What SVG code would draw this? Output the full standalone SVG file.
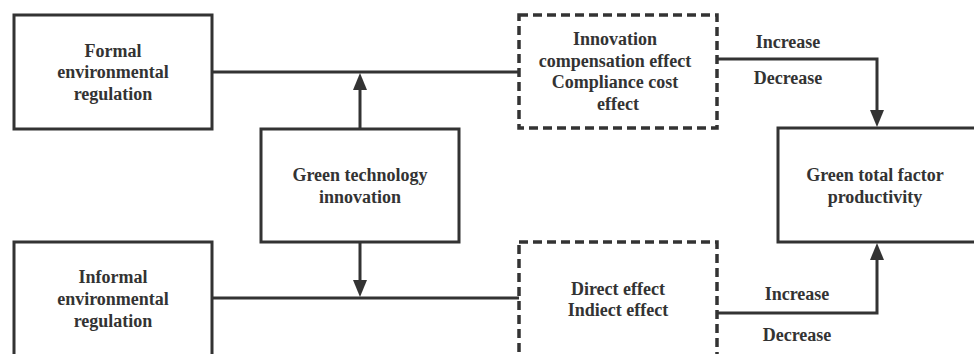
<svg xmlns="http://www.w3.org/2000/svg" width="974" height="354" viewBox="0 0 974 354">
<style>
.box{fill:#fff;stroke:#333;stroke-width:3}
.dash{fill:#fff;stroke:#333;stroke-width:3.5;stroke-dasharray:9 5}
.ln{fill:none;stroke:#333;stroke-width:3}
.ah{fill:#333}
text{font-family:'Liberation Serif','DejaVu Serif','Times New Roman',serif;font-weight:bold;font-size:18px;fill:#333;text-anchor:middle}
</style>
<rect width="974" height="354" fill="#fff"/>
<g id="connectors">
<line class="ln" x1="212" y1="72" x2="519" y2="72"/>
<line class="ln" x1="212" y1="298" x2="519" y2="298"/>
<line class="ln" x1="360" y1="129" x2="360" y2="90"/>
<polygon class="ah" points="353,90 367,90 360,73"/>
<line class="ln" x1="360" y1="242" x2="360" y2="280"/>
<polygon class="ah" points="353,280 367,280 360,297"/>
<polyline class="ln" points="717,59 877,59 877,110"/>
<polygon class="ah" points="870,110 884,110 877,127"/>
<polyline class="ln" points="717,313 877,313 877,260"/>
<polygon class="ah" points="870,260 884,260 877,243"/>
<text x="788" y="48" font-family="Liberation Serif, serif">Increase</text>
<text x="788" y="84" font-family="Liberation Serif, serif">Decrease</text>
<text x="797" y="300" font-family="Liberation Serif, serif">Increase</text>
<text x="797" y="341" font-family="Liberation Serif, serif">Decrease</text>
</g>
<g id="formal">
<rect class="box" x="14" y="15" width="198" height="114"/>
<text x="113" y="57">Formal</text>
<text x="113" y="78">environmental</text>
<text x="113" y="100">regulation</text>
</g>
<g id="green-tech">
<rect class="box" x="261" y="129" width="198" height="113"/>
<text x="360" y="181">Green technology</text>
<text x="360" y="203">innovation</text>
</g>
<g id="informal">
<rect class="box" x="14" y="242" width="198" height="116"/>
<text x="113" y="283">Informal</text>
<text x="113" y="305">environmental</text>
<text x="113" y="327">regulation</text>
</g>
<g id="effects-top">
<rect class="dash" x="519" y="15" width="198" height="113"/>
<text x="615" y="45">Innovation</text>
<text x="615" y="67">compensation effect</text>
<text x="615" y="88">Compliance cost</text>
<text x="618" y="110">effect</text>
</g>
<g id="effects-bottom">
<rect class="dash" x="519" y="242" width="198" height="116"/>
<text x="618" y="295">Direct effect</text>
<text x="618" y="316">Indiect effect</text>
</g>
<g id="gtfp">
<rect class="box" x="778" y="128" width="198" height="114"/>
<text x="875" y="181">Green total factor</text>
<text x="875" y="203">productivity</text>
</g>
</svg>
